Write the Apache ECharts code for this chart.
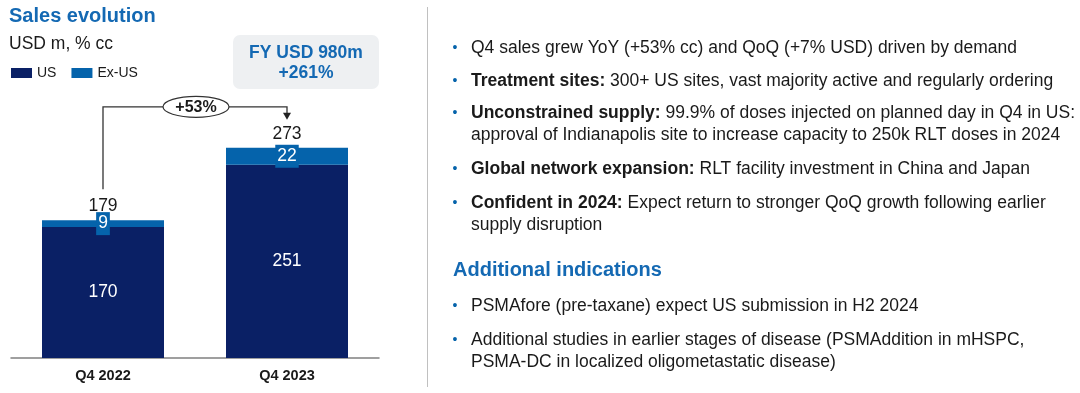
<!DOCTYPE html>
<html>
<head>
<meta charset="utf-8">
<style>
html,body{margin:0;padding:0;background:#fff;}
#c{width:1080px;height:393px;}
</style>
<script src="https://cdn.jsdelivr.net/npm/echarts@6/dist/echarts.min.js"></script>
</head>
<body>
<div id="c"></div>
<script>
var categories = ['Q4 2022', 'Q4 2023'];
var usValues = [170, 251];
var exUsValues = [9, 22];
var totals = [179, 273];
var growthLabel = '+53%';
var fyLine1 = 'FY USD 980m';
var fyLine2 = '+261%';

var bullets = [
  {bold: '', text: 'Q4 sales grew YoY (+53% cc) and QoQ (+7% USD) driven by demand'},
  {bold: 'Treatment sites:', text: ' 300+ US sites, vast majority active and regularly ordering'},
  {bold: 'Unconstrained supply:', text: ' 99.9% of doses injected on planned day in Q4 in US:\napproval of Indianapolis site to increase capacity to 250k RLT doses in 2024'},
  {bold: 'Global network expansion:', text: ' RLT facility investment in China and Japan'},
  {bold: 'Confident in 2024:', text: ' Expect return to stronger QoQ growth following earlier\nsupply disruption'}
];
var heading2 = 'Additional indications';
var bullets2 = [
  'PSMAfore (pre-taxane) expect US submission in H2 2024',
  'Additional studies in earlier stages of disease (PSMAddition in mHSPC,\nPSMA-DC in localized oligometastatic disease)'
];

var NAVY = '#0a2065';
var BLUE = '#0563ab';
var TITLE_BLUE = '#1469b3';
var FONT = '"Liberation Sans", Arial, sans-serif';
var FS = 17.5;

var chart = echarts.init(document.getElementById('c'));

var graphics = [];
// separator
graphics.push({type:'line', shape:{x1:427.5,y1:7,x2:427.5,y2:387}, style:{stroke:'#c0c0c0', lineWidth:1}});
// FY box
graphics.push({type:'rect', shape:{x:233,y:35,width:146,height:54,r:7}, style:{fill:'#eef0f2'}});
graphics.push({type:'text', style:{x:306,y:53,text:fyLine1,font:'bold 17.5px '+FONT,fill:TITLE_BLUE,align:'center',verticalAlign:'middle'}});
graphics.push({type:'text', style:{x:306,y:73,text:fyLine2,font:'bold 17.5px '+FONT,fill:TITLE_BLUE,align:'center',verticalAlign:'middle'}});

// right text
var bulletY = [46, 79, 111, 167, 201];
var lineH = 22;
bullets.forEach(function(b, i){
  graphics.push({type:'text', style:{x:455,y:bulletY[i]+2,text:'•',font:'14px '+FONT,fill:BLUE,align:'center',verticalAlign:'middle'}});
  var lines = (b.bold ? '{b|' + b.bold + '}' : '') + b.text;
  graphics.push({type:'text', style:{x:471,y:bulletY[i]-9,text:lines,font:FS+'px '+FONT,fill:'#1a1a1a',lineHeight:lineH,
    rich:{b:{fontWeight:'bold',fontSize:FS,fontFamily:FONT,fill:'#1a1a1a',lineHeight:lineH}}}});
});
graphics.push({type:'text', style:{x:453,y:270,text:heading2,font:'bold 20px '+FONT,fill:TITLE_BLUE,verticalAlign:'middle'}});
var bullet2Y = [304, 338];
bullets2.forEach(function(t, i){
  graphics.push({type:'text', style:{x:455,y:bullet2Y[i]+2,text:'•',font:'14px '+FONT,fill:BLUE,align:'center',verticalAlign:'middle'}});
  graphics.push({type:'text', style:{x:471,y:bullet2Y[i]-9,text:t,font:FS+'px '+FONT,fill:'#1a1a1a',lineHeight:lineH}});
});

var option = {
  animation: false,
  title: {
    text: 'Sales evolution',
    subtext: 'USD m, % cc',
    left: 9, top: 6, padding: 0, itemGap: 9,
    textStyle: {fontFamily: FONT, fontSize: 20, fontWeight: 'bold', color: TITLE_BLUE},
    subtextStyle: {fontFamily: FONT, fontSize: 17.5, color: '#1a1a1a'}
  },
  legend: {
    left: 11, top: 66, padding: 0,
    itemWidth: 21, itemHeight: 10, itemGap: 15,
    icon: 'rect',
    data: ['US', 'Ex-US'],
    textStyle: {fontFamily: FONT, fontSize: 14, color: '#1a1a1a', padding: [0,0,0,0]}
  },
  grid: {left: 11, width: 368, top: 127, bottom: 35},
  xAxis: {
    type: 'category', data: categories,
    axisLine: {lineStyle: {color: '#808080', width: 1.5}},
    axisTick: {show: false},
    axisLabel: {fontFamily: FONT, fontSize: 14.5, fontWeight: 'bold', color: '#1a1a1a', margin: 10}
  },
  yAxis: {type: 'value', min: 0, max: 300, show: false, splitLine: {show: false}},
  series: [
    {name: 'US', type: 'bar', stack: 's', data: usValues, barWidth: 122,
      itemStyle: {color: NAVY},
      label: {show: true, position: 'inside', color: '#fff', fontFamily: FONT, fontSize: 17.5}},
    {name: 'Ex-US', type: 'bar', stack: 's', data: exUsValues,
      itemStyle: {color: BLUE},
      label: {show: true, position: 'inside', color: '#fff', fontFamily: FONT, fontSize: 17.5,
        backgroundColor: BLUE, padding: [3, 2, 2, 2]}},
    {name: 'Total', type: 'bar', stack: 's', data: totals.map(function(){return 0;}),
      itemStyle: {color: 'transparent'},
      label: {show: true, position: 'top', distance: 5, color: '#1a1a1a', fontFamily: FONT, fontSize: 17.5,
        formatter: function(p){ return totals[p.dataIndex]; }}}
  ],
  graphic: graphics
};
chart.setOption(option);

// growth arrow, positioned from axis scale
var p0 = chart.convertToPixel({gridIndex: 0}, [0, totals[0]]);
var p1 = chart.convertToPixel({gridIndex: 0}, [1, totals[1]]);
var topY = p1[1] - 41;
var leftBottom = p0[1] - 31;
var arrowEnd = p1[1] - 28;
var midX = (p0[0] + p1[0]) / 2 + 1;
var arrowG = [
  {type:'polyline', shape:{points:[[p0[0],leftBottom],[p0[0],topY],[p1[0],topY],[p1[0],arrowEnd-6]]}, style:{stroke:'#333',lineWidth:1.3,fill:null}},
  {type:'polygon', shape:{points:[[p1[0]-4,arrowEnd-7],[p1[0]+4,arrowEnd-7],[p1[0],arrowEnd]]}, style:{fill:'#222'}},
  {type:'ellipse', shape:{cx:midX,cy:topY,rx:33,ry:10.5}, style:{fill:'#fff',stroke:'#333',lineWidth:1.2}},
  {type:'text', style:{x:midX,y:topY+1,text:growthLabel,font:'bold 16px '+FONT,fill:'#1a1a1a',align:'center',verticalAlign:'middle'}}
];
chart.setOption({graphic: graphics.concat(arrowG)});
</script>
</body>
</html>
